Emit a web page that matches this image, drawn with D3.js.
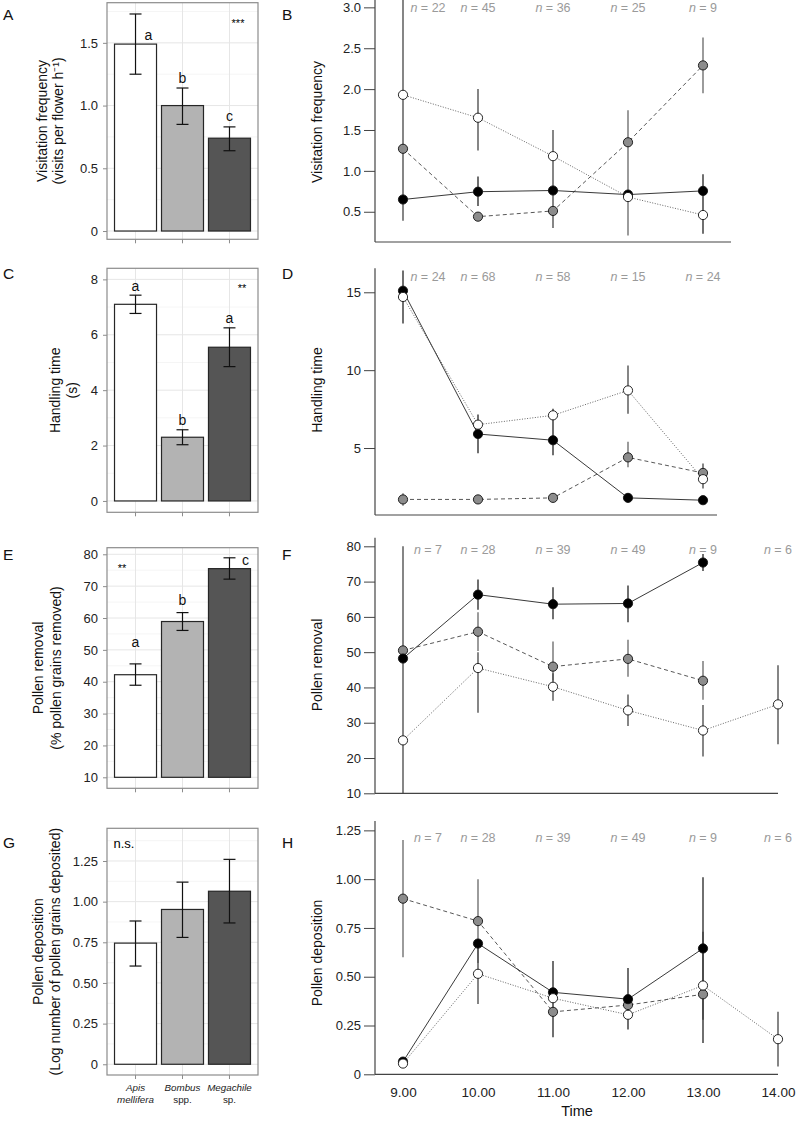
<!DOCTYPE html>
<html><head><meta charset="utf-8">
<script src="https://cdn.jsdelivr.net/npm/d3@7"></script>
<style>body{margin:0;background:#fff} svg{display:block;font-family:"Liberation Sans",Arial,Helvetica,sans-serif}</style>
</head><body><svg id="chart" width="796" height="1121"></svg>
<script>
// ---------- data ----------
const species = ["Apis mellifera","Bombus spp.","Megachile sp."];
const speciesLine1 = ["Apis","Bombus","Megachile"];
const speciesLine2 = ["mellifera","spp.","sp."];
const speciesLine2Italic = [true,false,false];
const times = [9,10,11,12,13,14];
const timeLabels = ["9.00","10.00","11.00","12.00","13.00","14.00"];

// A: visitation frequency by species
const visitMean = [1.49,1.00,0.74];
const visitLo = [1.25,0.85,0.64];
const visitHi = [1.73,1.14,0.83];
const visitLetters = ["a","b","c"];
const visitTicks = [0,0.5,1.0,1.5];
const visitTickLabels = ["0","0.5","1.0","1.5"];
// C: handling time by species
const handleMean = [7.1,2.3,5.55];
const handleLo = [6.77,2.03,4.85];
const handleHi = [7.43,2.57,6.25];
const handleLetters = ["a","b","a"];
const handleTicks = [0,2,4,6,8];
const handleTickLabels = ["0","2","4","6","8"];
// E: pollen removal by species
const removeMean = [42.2,58.9,75.5];
const removeLo = [38.9,56.1,72.2];
const removeHi = [45.6,61.7,78.9];
const removeLetters = ["a","b","c"];
const removeTicks = [10,20,30,40,50,60,70,80];
const removeTickLabels = ["10","20","30","40","50","60","70","80"];
// G: pollen deposition by species
const depositMean = [0.745,0.952,1.064];
const depositLo = [0.604,0.78,0.869];
const depositHi = [0.881,1.12,1.26];
const depositTicks = [0,0.25,0.5,0.75,1.0,1.25];
const depositTickLabels = ["0","0.25","0.50","0.75","1.00","1.25"];

// B: visitation frequency by time
const visitTimeApis = [1.93,1.65,1.18,0.68,0.46,null];
const visitTimeApisLo = [0.39,1.25,0.30,null,null,null];
const visitTimeApisHi = [3.10,2.00,1.50,null,null,null];
const visitTimeBombus = [1.27,0.44,0.51,1.35,2.29,null];
const visitTimeBombusLo = [null,null,null,0.21,1.95,null];
const visitTimeBombusHi = [null,null,null,1.74,2.63,null];
const visitTimeMega = [0.65,0.745,0.76,0.71,0.755,null];
const visitTimeMegaLo = [null,0.57,null,null,0.23,null];
const visitTimeMegaHi = [null,0.93,null,null,0.96,null];
const visitTimeN = [22,45,36,25,9];
const visitTimeTicks = [0.5,1.0,1.5,2.0,2.5,3.0];
const visitTimeTickLabels = ["0.5","1.0","1.5","2.0","2.5","3.0"];

// D: handling time by time
const handleTimeApis = [14.7,6.5,7.1,8.7,3.0,null];
const handleTimeApisLo = [null,null,null,7.2,2.4,null];
const handleTimeApisHi = [null,null,null,10.3,4.0,null];
const handleTimeBombus = [1.7,1.7,1.8,4.4,3.4,null];
const handleTimeBombusLo = [1.3,null,null,3.76,null,null];
const handleTimeBombusHi = [2.1,null,null,5.4,null,null];
const handleTimeMega = [15.1,5.9,5.5,1.8,1.65,null];
const handleTimeMegaLo = [13.0,4.66,4.53,1.55,null,null];
const handleTimeMegaHi = [16.4,7.16,7.52,2.1,null,null];
const handleTimeN = [24,68,58,15,24];
const handleTimeTicks = [5,10,15];
const handleTimeTickLabels = ["5","10","15"];

// F: pollen removal by time
const removeTimeApis = [25.0,45.5,40.2,33.5,27.8,35.2];
const removeTimeApisLo = [10,32.8,36.2,29.1,20.4,23.9];
const removeTimeApisHi = [80,50,44,38,35,46.3];
const removeTimeBombus = [50.5,55.8,45.9,48.1,41.9,null];
const removeTimeBombusLo = [null,50.3,42,43,36.5,null];
const removeTimeBombusHi = [null,61.3,53,53.5,47.5,null];
const removeTimeMega = [48.2,66.3,63.6,63.8,75.4,null];
const removeTimeMegaLo = [null,62,59.3,58.5,73,null];
const removeTimeMegaHi = [null,70.6,68.4,68.9,77.8,null];
const removeTimeN = [7,28,39,49,9,6];
const removeTimeTicks = [10,20,30,40,50,60,70,80];
const removeTimeTickLabels = ["10","20","30","40","50","60","70","80"];

// H: pollen deposition by time
const depositTimeApis = [0.055,0.515,0.39,0.305,0.455,0.18];
const depositTimeApisLo = [null,0.36,null,null,null,0.04];
const depositTimeApisHi = [null,0.66,null,null,null,0.32];
const depositTimeBombus = [0.90,0.785,0.32,0.355,0.41,null];
const depositTimeBombusLo = [0.60,0.57,null,null,0.28,null];
const depositTimeBombusHi = [1.20,1.0,null,null,0.73,null];
const depositTimeMega = [0.065,0.67,0.42,0.385,0.645,null];
const depositTimeMegaLo = [null,null,0.19,0.23,0.16,null];
const depositTimeMegaHi = [null,null,0.58,0.545,1.01,null];
const depositTimeN = [7,28,39,49,9,6];
const depositTimeTicks = [0,0.25,0.5,0.75,1.0,1.25];
const depositTimeTickLabels = ["0","0.25","0.50","0.75","1.00","1.25"];

// ---------- drawing ----------
const svg = d3.select("#chart");
const barFill = ["#ffffff","#b3b3b3","#555555"];

function panelLetter(t, x, y){
  svg.append("text").attr("x",x).attr("y",y).attr("font-size",15.5).attr("fill","#111").text(t);
}

function barPanel(c){
  const g = svg.append("g");
  const x = d3.scaleBand().domain(species).range([c.left,c.right]).paddingInner(0.106).paddingOuter(0.16);
  const y = d3.scaleLinear().domain(c.domain).range([c.bottom,c.top]);
  g.append("rect").attr("x",c.left).attr("y",c.top).attr("width",c.right-c.left).attr("height",c.bottom-c.top).attr("fill","#fff");
  const minor = [];
  const step = c.ticks[1]-c.ticks[0];
  c.ticks.forEach(t=>{
    [t-step/2, t+step/2].forEach(v=>{ if(v>c.domain[0]&&v<c.domain[1]&&!minor.includes(v)) minor.push(v); });
  });
  g.selectAll(".mn").data(minor).enter().append("line")
    .attr("x1",c.left).attr("x2",c.right).attr("y1",d=>y(d)).attr("y2",d=>y(d))
    .attr("stroke","#f2f2f2").attr("stroke-width",0.8);
  g.selectAll(".mj").data(c.ticks).enter().append("line")
    .attr("x1",c.left).attr("x2",c.right).attr("y1",d=>y(d)).attr("y2",d=>y(d))
    .attr("stroke","#e6e6e6").attr("stroke-width",1);
  g.selectAll(".vg").data(species).enter().append("line")
    .attr("x1",d=>x(d)+x.bandwidth()/2).attr("x2",d=>x(d)+x.bandwidth()/2).attr("y1",c.top).attr("y2",c.bottom)
    .attr("stroke","#e6e6e6").attr("stroke-width",1);
  g.selectAll(".bar").data(c.mean).enter().append("rect")
    .attr("x",(d,i)=>x(species[i])).attr("width",x.bandwidth())
    .attr("y",d=>y(d)).attr("height",d=>y(c.base)-y(d))
    .attr("fill",(d,i)=>barFill[i]).attr("stroke","#262626").attr("stroke-width",1.2);
  const cw = 6;
  c.mean.forEach((m,i)=>{
    const cx = x(species[i])+x.bandwidth()/2;
    g.append("line").attr("x1",cx).attr("x2",cx).attr("y1",y(c.lo[i])).attr("y2",y(c.hi[i])).attr("stroke","#111").attr("stroke-width",1.2);
    [c.lo[i],c.hi[i]].forEach(v=>g.append("line").attr("x1",cx-cw).attr("x2",cx+cw).attr("y1",y(v)).attr("y2",y(v)).attr("stroke","#111").attr("stroke-width",1.2));
  });
  g.append("rect").attr("x",c.left).attr("y",c.top).attr("width",c.right-c.left).attr("height",c.bottom-c.top)
    .attr("fill","none").attr("stroke","#8c8c8c").attr("stroke-width",1.2);
  const ya = d3.axisLeft(y).tickValues(c.ticks).tickFormat((d,i)=>c.tickLabels[i]).tickSize(4).tickPadding(5);
  const ag = g.append("g").attr("transform",`translate(${c.left},0)`).call(ya);
  ag.select(".domain").remove();
  ag.selectAll(".tick line").attr("stroke","#8c8c8c");
  ag.selectAll(".tick text").attr("font-size",13).attr("fill","#222").attr("font-family",null);
  const xa = d3.axisBottom(x).tickSize(4).tickFormat("");
  const xg = g.append("g").attr("transform",`translate(0,${c.bottom})`).call(xa);
  xg.select(".domain").remove();
  xg.selectAll(".tick line").attr("stroke","#8c8c8c");
  if(c.letters){
    c.letters.forEach((L,i)=>{
      const cx = x(species[i])+x.bandwidth()/2 + c.letterDx[i];
      g.append("text").attr("x",cx).attr("y",y(c.letterAt[i])).attr("text-anchor","middle")
        .attr("font-size",14).attr("fill","#111").text(L);
    });
  }
  g.append("text").attr("x",c.sigX).attr("y",c.sigY).attr("text-anchor","middle")
    .attr("font-size",c.sigSize).attr("fill","#000").text(c.sig);
  const tx = c.titleX, ty = (c.top+c.bottom)/2;
  c.title.forEach((t,k)=>{
    g.append("text").attr("transform",`translate(${tx[k]},${ty}) rotate(-90)`).attr("text-anchor","middle")
      .attr("dominant-baseline","middle").attr("font-size",14).attr("fill","#111").text(t);
  });
  return {x,y};
}

function linePanel(c){
  const g = svg.append("g");
  const x = d3.scaleLinear().domain([9,14]).range([403,778]);
  const y = d3.scaleLinear().domain(c.domain).range([c.bottom,c.top]);
  g.append("line").attr("x1",375).attr("x2",375).attr("y1",c.top).attr("y2",c.bottom).attr("stroke","#444").attr("stroke-width",1.2);
  g.append("line").attr("x1",375).attr("x2",c.xEnd).attr("y1",c.bottom).attr("y2",c.bottom).attr("stroke","#444").attr("stroke-width",1.2);
  const ya = d3.axisLeft(y).tickValues(c.ticks).tickFormat((d,i)=>c.tickLabels[i]).tickSize(11).tickPadding(3);
  const ag = g.append("g").attr("transform","translate(375,0)").call(ya);
  ag.select(".domain").remove();
  ag.selectAll(".tick line").attr("stroke","#444").attr("stroke-width",1);
  ag.selectAll(".tick text").attr("font-size",13).attr("fill","#222").attr("font-family",null);
  if(c.xLabels){
    const xa = d3.axisBottom(x).tickValues(times).tickFormat((d,i)=>timeLabels[i]).tickSize(0).tickPadding(13);
    const xg = g.append("g").attr("transform",`translate(0,${c.bottom})`).call(xa);
    xg.select(".domain").remove();
    xg.selectAll(".tick text").attr("font-size",13.5).attr("fill","#222").attr("font-family",null);
    g.append("text").attr("x",577).attr("y",c.bottom+42).attr("text-anchor","middle").attr("font-size",14.5).attr("fill","#111").text("Time");
  }
  g.append("text").attr("transform",`translate(318,${c.titleY}) rotate(-90)`).attr("text-anchor","middle")
    .attr("dominant-baseline","middle").attr("font-size",14).attr("fill","#111").text(c.title);
  c.n.forEach((n,i)=>{
    const t = g.append("text").attr("x",x(times[i]) + (i===0?25:0)).attr("y",c.nY).attr("text-anchor","middle")
      .attr("font-size",12.5).attr("fill","#9a9a9a");
    t.append("tspan").attr("font-style","italic").text("n");
    t.append("tspan").text(" = "+n);
  });
  const series = [
    {v:c.bombus, lo:c.bombusLo, hi:c.bombusHi, fill:"#8c8c8c", dash:"4,3", lc:"#444", ec:"#666"},
    {v:c.mega, lo:c.megaLo, hi:c.megaHi, fill:"#000", dash:null, lc:"#222", ec:"#222"},
    {v:c.apis, lo:c.apisLo, hi:c.apisHi, fill:"#fff", dash:"1,1.6", lc:"#555", ec:"#444"}
  ];
  series.forEach(s=>{
    times.forEach((t,i)=>{
      if(s.lo[i]==null) return;
      g.append("line").attr("x1",x(t)).attr("x2",x(t)).attr("y1",y(s.lo[i])).attr("y2",y(s.hi[i]))
        .attr("stroke",s.ec).attr("stroke-width",1.3);
    });
  });
  series.forEach(s=>{
    const pts = times.map((t,i)=>({t,v:s.v[i]}));
    const line = d3.line().defined(d=>d.v!=null).x(d=>x(d.t)).y(d=>y(d.v));
    g.append("path").datum(pts).attr("d",line).attr("fill","none").attr("stroke",s.lc)
      .attr("stroke-width",0.9).attr("stroke-dasharray",s.dash);
  });
  series.forEach(s=>{
    const pts = times.map((t,i)=>({t,v:s.v[i]})).filter(d=>d.v!=null);
    g.selectAll(null).data(pts).enter().append("circle")
      .attr("cx",d=>x(d.t)).attr("cy",d=>y(d.v)).attr("r",4.6)
      .attr("fill",s.fill).attr("stroke","#111").attr("stroke-width",0.9);
  });
}

panelLetter("A",3,20); panelLetter("B",282,20);
panelLetter("C",3,279); panelLetter("D",282,279);
panelLetter("E",3,560); panelLetter("F",282,560);
panelLetter("G",3,848); panelLetter("H",282,848);

barPanel({left:107,right:258,top:2.7,bottom:239.3,domain:[-0.066,1.82],base:0,
  ticks:visitTicks,tickLabels:visitTickLabels,mean:visitMean,lo:visitLo,hi:visitHi,
  letters:visitLetters,letterAt:[1.52,1.18,0.88],letterDx:[13,0,0],
  sig:"***",sigX:238,sigY:27,sigSize:11,
  title:["Visitation frequency","(visits per flower h\u207B\u00B9)"],titleX:[43,59]});

barPanel({left:107,right:258,top:268.3,bottom:512.3,domain:[-0.41,8.4],base:0,
  ticks:handleTicks,tickLabels:handleTickLabels,mean:handleMean,lo:handleLo,hi:handleHi,
  letters:handleLetters,letterAt:[7.59,2.74,6.43],letterDx:[0,0,0],
  sig:"**",sigX:242,sigY:292,sigSize:11,
  title:["Handling time","(s)"],titleX:[56,73]});

barPanel({left:107,right:258,top:547.7,bottom:788.3,domain:[6.55,82.07],base:10,
  ticks:removeTicks,tickLabels:removeTickLabels,mean:removeMean,lo:removeLo,hi:removeHi,
  letters:removeLetters,letterAt:[51.0,64.1,76.6],letterDx:[0,0,16],
  sig:"**",sigX:122,sigY:572,sigSize:11,
  title:["Pollen removal","(% pollen grains removed)"],titleX:[39,57]});

const G = barPanel({left:107,right:258,top:828.3,bottom:1075,domain:[-0.066,1.451],base:0,
  ticks:depositTicks,tickLabels:depositTickLabels,mean:depositMean,lo:depositLo,hi:depositHi,
  letters:null,sig:"n.s.",sigX:124,sigY:848,sigSize:13,
  title:["Pollen deposition","(Log number of pollen grains deposited)"],titleX:[39,56]});

species.forEach((s,i)=>{
  const cx = G.x(s)+G.x.bandwidth()/2;
  svg.append("text").attr("x",cx).attr("y",1091).attr("text-anchor","middle").attr("font-size",9.8)
    .attr("font-style","italic").attr("fill","#222").text(speciesLine1[i]);
  svg.append("text").attr("x",cx).attr("y",1102.5).attr("text-anchor","middle").attr("font-size",9.8)
    .attr("font-style",speciesLine2Italic[i]?"italic":"normal").attr("fill","#222").text(speciesLine2[i]);
});

linePanel({top:0,bottom:242,domain:[0.13,3.09],xEnd:731,ticks:visitTimeTicks,tickLabels:visitTimeTickLabels,
  title:"Visitation frequency",titleY:122,n:visitTimeN,nY:11.7,
  apis:visitTimeApis,apisLo:visitTimeApisLo,apisHi:visitTimeApisHi,
  bombus:visitTimeBombus,bombusLo:visitTimeBombusLo,bombusHi:visitTimeBombusHi,
  mega:visitTimeMega,megaLo:visitTimeMegaLo,megaHi:visitTimeMegaHi});

linePanel({top:268.3,bottom:515,domain:[0.7,16.54],xEnd:717,ticks:handleTimeTicks,tickLabels:handleTimeTickLabels,
  title:"Handling time",titleY:390,n:handleTimeN,nY:281,
  apis:handleTimeApis,apisLo:handleTimeApisLo,apisHi:handleTimeApisHi,
  bombus:handleTimeBombus,bombusLo:handleTimeBombusLo,bombusHi:handleTimeBombusHi,
  mega:handleTimeMega,megaLo:handleTimeMegaLo,megaHi:handleTimeMegaHi});

linePanel({top:537.7,bottom:793.3,domain:[10,82.44],xEnd:778,ticks:removeTimeTicks,tickLabels:removeTimeTickLabels,
  title:"Pollen removal",titleY:665,n:removeTimeN,nY:553.5,
  apis:removeTimeApis,apisLo:removeTimeApisLo,apisHi:removeTimeApisHi,
  bombus:removeTimeBombus,bombusLo:removeTimeBombusLo,bombusHi:removeTimeBombusHi,
  mega:removeTimeMega,megaLo:removeTimeMegaLo,megaHi:removeTimeMegaHi});

linePanel({top:821,bottom:1074.3,domain:[0,1.298],xEnd:778,ticks:depositTimeTicks,tickLabels:depositTimeTickLabels,
  title:"Pollen deposition",titleY:953,n:depositTimeN,nY:842,xLabels:true,
  apis:depositTimeApis,apisLo:depositTimeApisLo,apisHi:depositTimeApisHi,
  bombus:depositTimeBombus,bombusLo:depositTimeBombusLo,bombusHi:depositTimeBombusHi,
  mega:depositTimeMega,megaLo:depositTimeMegaLo,megaHi:depositTimeMegaHi});
</script></body></html>
